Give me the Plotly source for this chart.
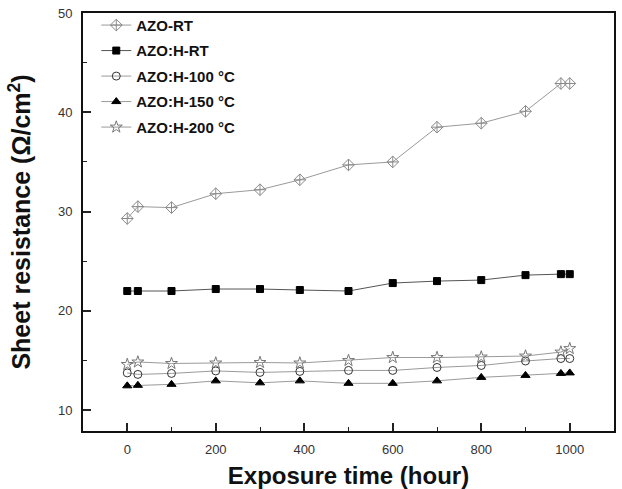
import plotly.graph_objects as go

hours = [0, 24, 100, 200, 300, 390, 500, 600, 700, 800, 900, 980, 1000]
azo_rt = [29.3, 30.5, 30.4, 31.8, 32.2, 33.2, 34.7, 35.0, 38.5, 38.9, 40.1, 42.9, 42.9]
azoh_rt = [22.0, 22.0, 22.0, 22.2, 22.2, 22.1, 22.0, 22.8, 23.0, 23.1, 23.6, 23.7, 23.7]
azoh_100 = [13.75, 13.6, 13.7, 13.95, 13.8, 13.9, 14.0, 14.0, 14.3, 14.5, 14.95, 15.2, 15.2]
azoh_150 = [12.45, 12.5, 12.6, 12.95, 12.75, 12.95, 12.7, 12.7, 12.95, 13.3, 13.5, 13.7, 13.75]
azoh_200 = [14.6, 14.85, 14.7, 14.75, 14.8, 14.75, 15.0, 15.3, 15.3, 15.35, 15.45, 15.85, 16.2]

series = [
    ("AZO-RT", azo_rt, "diamond-cross-open", "#8a8a8a", 9),
    ("AZO:H-RT", azoh_rt, "square", "#000000", 7),
    ("AZO:H-100 °C", azoh_100, "circle-open", "#333333", 8),
    ("AZO:H-150 °C", azoh_150, "triangle-up", "#000000", 8),
    ("AZO:H-200 °C", azoh_200, "star-open", "#777777", 9),
]

fig = go.Figure()
for i, (name, ys, sym, col, sz) in enumerate(series):
    fig.add_trace(go.Scatter(
        x=hours, y=ys, name="<b>" + name + "</b>", mode="lines+markers",
        legendgroup="g%d" % i,
        line=dict(color="#9a9a9a" if name != "AZO:H-RT" else "#555555", width=1),
        marker=dict(symbol=sym, size=sz, color=col, line=dict(color=col, width=1)),
    ))

fig.update_layout(
    width=622, height=489,
    margin=dict(l=83, r=8, t=13, b=58),
    paper_bgcolor="white", plot_bgcolor="white",
    font=dict(family="Liberation Sans, Arial, sans-serif", color="#222"),
    showlegend=True,
    legend=dict(x=0.025, y=1.01, xanchor="left", yanchor="top",
                bgcolor="rgba(0,0,0,0)", font=dict(size=15, color="#111", family="Liberation Sans, Arial, sans-serif"),
                traceorder="grouped", tracegroupgap=3, itemwidth=30),
)
fig.update_xaxes(
    range=[-100, 1100], tickvals=[0, 200, 400, 600, 800, 1000],
    ticks="inside", ticklen=8, tickwidth=2, tickcolor="#222",
    minor=dict(tickvals=[100, 300, 500, 700, 900], ticks="inside", ticklen=4, tickwidth=1, tickcolor="#222"),
    showline=True, linecolor="#111", linewidth=2, mirror=True,
    showgrid=False, zeroline=False, ticklabelstandoff=5, automargin=False,
    tickfont=dict(size=13, color="#333"),
    title=dict(text="<b>Exposure time (hour)</b>", font=dict(size=24, color="#111"), standoff=20),
)
fig.update_yaxes(
    range=[7.9, 50], tickvals=[10, 20, 30, 40, 50],
    ticks="inside", ticklen=8, tickwidth=2, tickcolor="#222",
    minor=dict(tickvals=[15, 25, 35, 45], ticks="inside", ticklen=4, tickwidth=1, tickcolor="#222"),
    showline=True, linecolor="#111", linewidth=2, mirror=True,
    showgrid=False, zeroline=False, ticklabelstandoff=6, automargin=False,
    tickfont=dict(size=13, color="#333"),
    title=dict(text="<b>Sheet resistance (Ω/cm<sup>2</sup>)</b>", font=dict(size=25, color="#111"), standoff=20),
)

fig.write_html("out.html")
